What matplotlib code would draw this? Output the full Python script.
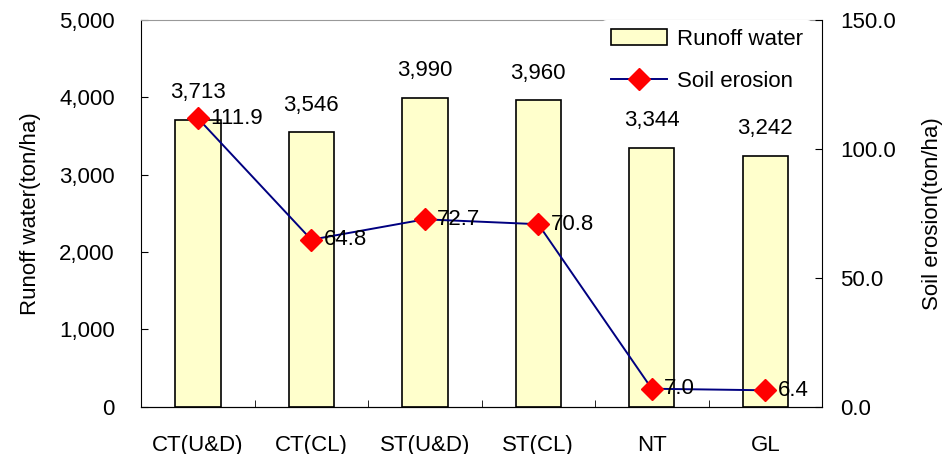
import matplotlib.pyplot as plt
import numpy as np

plt.rcParams['font.family'] = ['Liberation Sans', 'DejaVu Sans']

categories = ["CT(U&D)", "CT(CL)", "ST(U&D)", "ST(CL)", "NT", "GL"]
runoff = [3713, 3546, 3990, 3960, 3344, 3242]
erosion = [111.9, 64.8, 72.7, 70.8, 7.0, 6.4]

fs = 16
x = np.arange(len(categories))

fig, ax = plt.subplots(figsize=(9.47, 4.54), dpi=100)
fig.subplots_adjust(left=0.149, right=0.868, top=0.956, bottom=0.104)

bars = ax.bar(x, runoff, width=0.4, color='#FFFFCC', edgecolor='black',
              linewidth=1.2, label='Runoff water', zorder=2)
for xi, v in zip(x, runoff):
    ax.annotate(f"{v:,}", (xi, v), xytext=(0, 12), textcoords='offset points',
                ha='center', va='bottom', fontsize=fs)

ax.set_xlim(-0.5, len(categories) - 0.5)
ax.set_ylim(0, 5000)
ax.set_yticks(np.arange(0, 5001, 1000))
ax.set_yticklabels([f"{t:,}" for t in range(0, 5001, 1000)])
ax.set_xticks(x)
ax.set_xticklabels(categories)
ax.set_xticks(x[:-1] + 0.5, minor=True)
ax.tick_params(axis='x', which='major', length=0, pad=20, labelsize=fs)
ax.tick_params(axis='x', which='minor', direction='in', length=5)
ax.tick_params(axis='y', direction='in', length=5, labelsize=fs, pad=19)
ax.set_ylabel("Runoff water(ton/ha)", fontsize=fs, labelpad=13)
ax.spines['top'].set_color('#999999')
ax.spines['right'].set_visible(False)

ax2 = ax.twinx()
line, = ax2.plot(x, erosion, color='#000080', linewidth=1.4, marker='D',
                 markersize=11, markerfacecolor='red', markeredgecolor='red',
                 label='Soil erosion', zorder=3)
for xi, v in zip(x, erosion):
    ax2.annotate(f"{v:.1f}", (xi, v), xytext=(9, 0), textcoords='offset points',
                 ha='left', va='center', fontsize=fs)
ax2.set_ylim(0, 150)
ax2.set_yticks([0, 50, 100, 150])
ax2.set_yticklabels(["0.0", "50.0", "100.0", "150.0"])
ax2.tick_params(axis='y', direction='in', length=5, labelsize=fs, pad=13)
ax2.set_ylabel("Soil erosion(ton/ha)", fontsize=fs, labelpad=19)
ax2.spines['top'].set_visible(False)
ax2.spines['left'].set_visible(False)

leg = ax2.legend([bars, line], ["Runoff water", "Soil erosion"],
                 loc='upper right', bbox_to_anchor=(0.985, 1.0), frameon=True,
                 fontsize=fs, handlelength=2.5, handletextpad=0.45,
                 labelspacing=0.95, borderaxespad=0, borderpad=0.4)
leg.get_frame().set_edgecolor('white')
leg.get_frame().set_facecolor('white')
leg.get_frame().set_alpha(1)
leg.get_frame().set_linewidth(0)

plt.savefig("out.png", dpi=100)
